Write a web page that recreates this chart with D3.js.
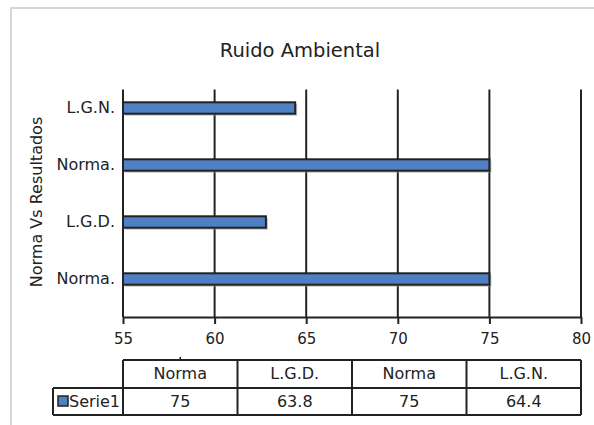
<!DOCTYPE html>
<html>
<head>
<meta charset="utf-8">
<script src="https://cdn.jsdelivr.net/npm/d3@7"></script>
<style>
  body { margin: 0; background: #fff; }
  text { font-family: "DejaVu Sans", sans-serif; fill: #222; }
</style>
</head>
<body>
<svg id="chart" width="594" height="425"></svg>
<script>
// data, bottom to top as drawn
var categories = ["Norma", "L.G.D.", "Norma", "L.G.N."];
var axisLabels = ["Norma.", "L.G.D.", "Norma.", "L.G.N."];
var barValues = [75, 62.8, 75, 64.4];      // bar lengths as drawn
var tableValues = ["75", "63.8", "75", "64.4"]; // numbers printed in the data table
var xTicks = [55, 60, 65, 70, 75, 80];
var seriesName = "Serie1";

var svg = d3.select("#chart");

var gridTop = 89.5, axisY = 317;

var x = d3.scaleLinear().domain([55, 80]).range([123, 581]);
var y = d3.scaleBand()
          .domain(d3.range(categories.length))
          .range([307.5, 79.5])
          .paddingInner(0.8)
          .paddingOuter(0.4);

// outer frame
svg.append("rect")
    .attr("x", 11).attr("y", 8)
    .attr("width", 700).attr("height", 500)
    .attr("fill", "none")
    .attr("stroke", "#d6d6d6")
    .attr("stroke-width", 2);

// title
svg.append("text")
    .attr("x", 300).attr("y", 57)
    .attr("text-anchor", "middle")
    .style("font-size", "19.5px")
    .text("Ruido Ambiental");

// vertical gridlines (the 55 one doubles as the axis)
svg.append("g")
    .selectAll("line")
    .data(xTicks)
    .enter()
    .append("line")
    .attr("x1", d => x(d)).attr("x2", d => x(d))
    .attr("y1", gridTop).attr("y2", axisY)
    .attr("stroke", "#222")
    .attr("stroke-width", 2);

// bars: shadow then bar
var barG = svg.append("g");
barG.selectAll("rect.shadow")
    .data(barValues)
    .enter()
    .append("rect")
    .attr("class", "shadow")
    .attr("x", x(55) + 2)
    .attr("y", (d, i) => y(i) + 2)
    .attr("width", d => x(d) - x(55))
    .attr("height", y.bandwidth())
    .attr("fill", "#9a9a9a")
    .attr("opacity", 0.6);

barG.selectAll("rect.bar")
    .data(barValues)
    .enter()
    .append("rect")
    .attr("class", "bar")
    .attr("x", x(55))
    .attr("y", (d, i) => y(i))
    .attr("width", d => x(d) - x(55))
    .attr("height", y.bandwidth())
    .attr("fill", "#4f7fc4")
    .attr("stroke", "#222")
    .attr("stroke-width", 2);

// x axis
var xAxis = svg.append("g")
    .attr("transform", "translate(0," + axisY + ")")
    .call(d3.axisBottom(x).tickValues(xTicks).tickSize(7).tickSizeOuter(0).tickPadding(9));
xAxis.select(".domain").attr("stroke", "#222").attr("stroke-width", 2);
xAxis.selectAll(".tick line").attr("stroke", "#222").attr("stroke-width", 2);
xAxis.selectAll("text")
    .style("font-size", "15px")
    .style("font-family", "DejaVu Sans, sans-serif")
    .attr("fill", "#222");

// y axis labels
var yAxis = svg.append("g")
    .attr("transform", "translate(" + x(55) + ",0)")
    .call(d3.axisLeft(y).tickSize(0).tickPadding(8).tickFormat(i => axisLabels[i]));
yAxis.select(".domain").remove();
yAxis.selectAll("text")
    .style("font-size", "16px")
    .style("font-family", "DejaVu Sans, sans-serif")
    .attr("fill", "#222");

// y axis title
svg.append("text")
    .attr("transform", "translate(42,202) rotate(-90)")
    .attr("text-anchor", "middle")
    .style("font-size", "16px")
    .text("Norma Vs Resultados");

// data table under the chart
var col = d3.scaleBand()
    .domain(d3.range(categories.length))
    .range([x(55), x(80)]);
var rowTop = 360, rowMid = 388, rowBot = 415;
var tbl = svg.append("g")
    .attr("stroke", "#222")
    .attr("stroke-width", 2);

tbl.append("line").attr("x1", col.range()[0]).attr("x2", col.range()[1]).attr("y1", rowTop).attr("y2", rowTop);
tbl.append("line").attr("x1", 53).attr("x2", col.range()[1]).attr("y1", rowMid).attr("y2", rowMid);
tbl.append("line").attr("x1", 53).attr("x2", col.range()[1]).attr("y1", rowBot).attr("y2", rowBot);
tbl.append("line").attr("x1", 53).attr("x2", 53).attr("y1", rowMid).attr("y2", rowBot);

tbl.selectAll("line.col")
    .data(d3.range(categories.length + 1))
    .enter()
    .append("line")
    .attr("class", "col")
    .attr("x1", i => i < categories.length ? col(i) : col.range()[1])
    .attr("x2", i => i < categories.length ? col(i) : col.range()[1])
    .attr("y1", rowTop).attr("y2", rowBot);

// small notch above first column
tbl.append("line")
    .attr("x1", col(0) + col.bandwidth() / 2).attr("x2", col(0) + col.bandwidth() / 2)
    .attr("y1", rowTop - 3).attr("y2", rowTop)
    .attr("stroke-width", 1.5);

svg.append("g").selectAll("text")
    .data(categories)
    .enter()
    .append("text")
    .attr("x", (d, i) => col(i) + col.bandwidth() / 2)
    .attr("y", 379)
    .attr("text-anchor", "middle")
    .style("font-size", "16px")
    .text(d => d);

svg.append("g").selectAll("text")
    .data(tableValues)
    .enter()
    .append("text")
    .attr("x", (d, i) => col(i) + col.bandwidth() / 2)
    .attr("y", 407)
    .attr("text-anchor", "middle")
    .style("font-size", "16px")
    .text(d => d);

// legend key
svg.append("rect")
    .attr("x", 58).attr("y", 396)
    .attr("width", 10).attr("height", 10)
    .attr("fill", "#4f7fc4")
    .attr("stroke", "#222")
    .attr("stroke-width", 1.5);
svg.append("text")
    .attr("x", 69).attr("y", 407)
    .style("font-size", "16px")
    .text(seriesName);
</script>
</body>
</html>
